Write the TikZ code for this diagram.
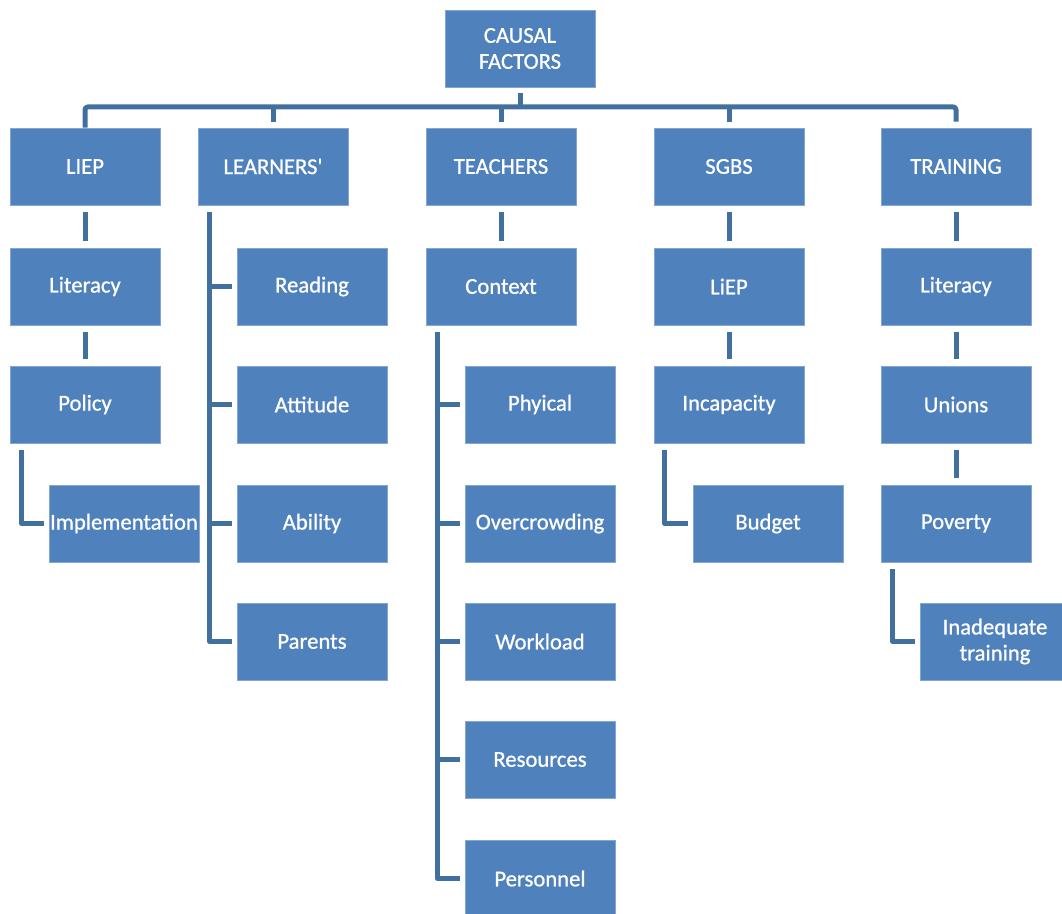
\documentclass[tikz,border=0pt]{standalone}
\usepackage{fontspec}
\setmainfont{Carlito}
\newfontfamily\boxfont{Carlito}[FakeBold=0.8]
\definecolor{boxblue}{HTML}{4F81BD}
\definecolor{linkblue}{HTML}{41709F}
\begin{document}
\begin{tikzpicture}[x=0.75pt,y=-0.75pt,
  cbox/.style={fill=boxblue,draw=boxblue!70!white,line width=0.4pt,minimum width=112.5pt,minimum height=57.75pt,inner sep=1pt,
    text=white,align=center,font=\boxfont\fontsize{17}{19.5}\selectfont},
  conn/.style={draw=linkblue,line width=3.75pt,line join=round,line cap=butt},
  stub/.style={conn,shorten <=5.25pt,shorten >=5.25pt},
  elb/.style={conn,shorten <=5.25pt,shorten >=3.75pt},
  tick/.style={conn,shorten >=3.75pt}]
\useasboundingbox (0,0) rectangle (1062,913);
% root
\node[cbox] (root) at (520,48.5) {CAUSAL\\FACTORS};
% level 1
\node[cbox] (liep) at (85,166.5) {LIEP};
\node[cbox] (lea) at (273,166.5) {LEARNERS\char"0027};
\node[cbox] (tea) at (501,166.5) {TEACHERS};
\node[cbox] (sgb) at (729,166.5) {SGBS};
\node[cbox] (tra) at (956,166.5) {TRAINING};
% LIEP column
\node[cbox] (lit1) at (85,286.5) {Literacy};
\node[cbox] (pol) at (85,404.5) {Policy};
\node[cbox] (imp) at (124,523.5) {Implementation};
% Learners column
\node[cbox] (rea) at (312,286.5) {Reading};
\node[cbox] (att) at (312,404.5) {Attitude};
\node[cbox] (abi) at (312,523.5) {Ability};
\node[cbox] (par) at (312,641.5) {Parents};
% Teachers column
\node[cbox] (con) at (501,286.5) {Context};
\node[cbox] (phy) at (540,404.5) {Phyical};
\node[cbox] (ove) at (540,523.5) {Overcrowding};
\node[cbox] (wor) at (540,641.5) {Workload};
\node[cbox] (res) at (540,759.5) {Resources};
\node[cbox] (per) at (540,878.5) {Personnel};
% SGBS column
\node[cbox] (liep2) at (729,286.5) {LiEP};
\node[cbox] (inc) at (729,404.5) {Incapacity};
\node[cbox] (bud) at (768,523.5) {Budget};
% Training column
\node[cbox] (lit2) at (956,286.5) {Literacy};
\node[cbox] (uni) at (956,404.5) {Unions};
\node[cbox] (pov) at (956,523.5) {Poverty};
\node[cbox] (ina) at (995,641.5) {Inadequate\\training};
% top connectors
\coordinate (bar) at (520,107);
\draw[conn,shorten <=4.5pt] (root.south) -- (bar);
\draw[conn,shorten >=4.5pt,rounded corners=2pt] (liep.north) |- (bar) -| (tra.north);
\draw[conn,shorten >=4.5pt] (bar -| lea.north) -- (lea.north);
\draw[conn,shorten >=4.5pt] (bar -| tea.north) -- (tea.north);
\draw[conn,shorten >=4.5pt] (bar -| sgb.north) -- (sgb.north);
% straight stubs
\draw[stub] (liep) -- (lit1);
\draw[stub] (lit1) -- (pol);
\draw[stub] (tea) -- (con);
\draw[stub] (sgb) -- (liep2);
\draw[stub] (liep2) -- (inc);
\draw[stub] (tra) -- (lit2);
\draw[stub] (lit2) -- (uni);
\draw[stub] (uni) -- (pov);
% elbows
\draw[elb] ([xshift=9pt]pol.south west) |- (imp.west);
\draw[elb] ([xshift=8.25pt]inc.south west) |- (bud.west);
\draw[elb] ([xshift=9pt]pov.south west) |- (ina.west);
\draw[elb] ([xshift=9pt]lea.south west) |- (par.west);
\draw[elb] ([xshift=9pt]con.south west) |- (per.west);
% ticks learners
\draw[tick] ([xshift=9pt]lea.south west |- rea.west) -- (rea.west);
\draw[tick] ([xshift=9pt]lea.south west |- att.west) -- (att.west);
\draw[tick] ([xshift=9pt]lea.south west |- abi.west) -- (abi.west);
% ticks teachers
\draw[tick] ([xshift=9pt]con.south west |- phy.west) -- (phy.west);
\draw[tick] ([xshift=9pt]con.south west |- ove.west) -- (ove.west);
\draw[tick] ([xshift=9pt]con.south west |- wor.west) -- (wor.west);
\draw[tick] ([xshift=9pt]con.south west |- res.west) -- (res.west);
\end{tikzpicture}
\end{document}
